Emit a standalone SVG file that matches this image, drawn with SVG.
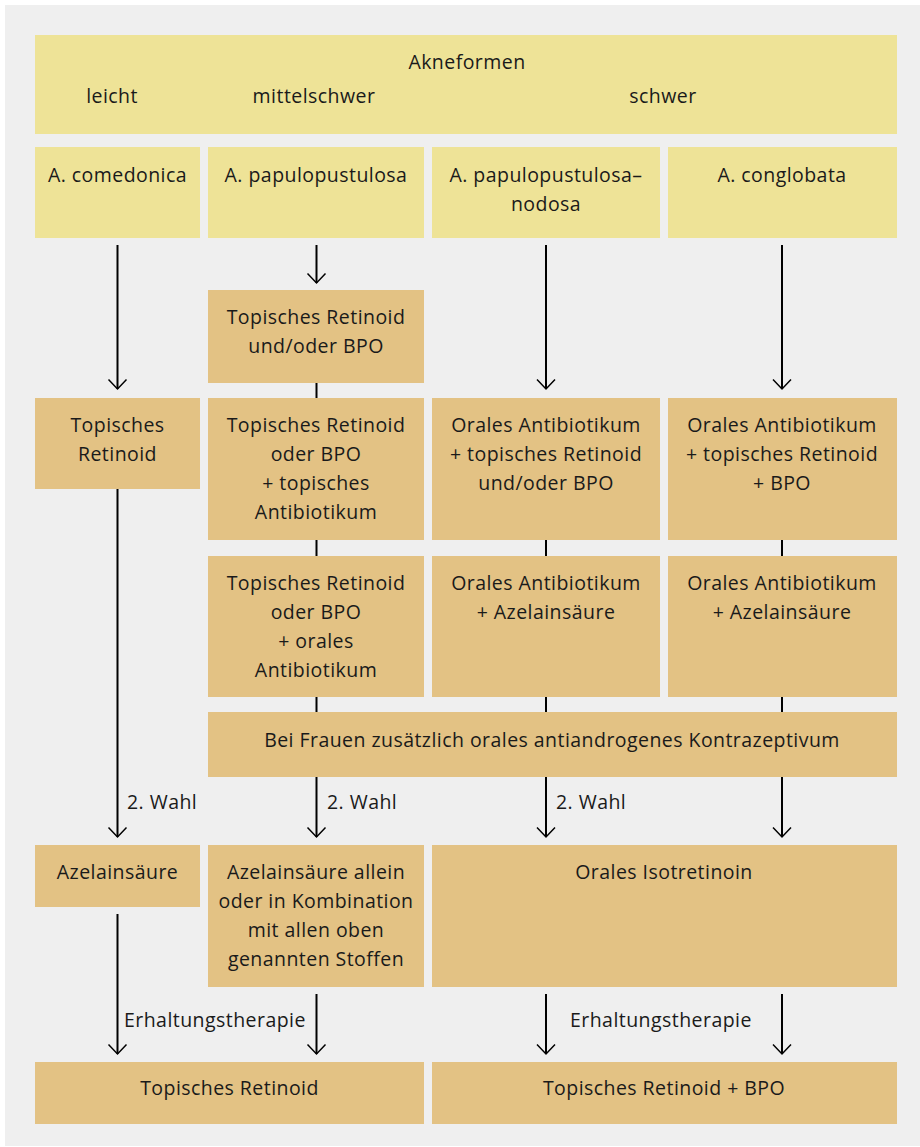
<svg xmlns="http://www.w3.org/2000/svg" width="920" height="1147" viewBox="0 0 920 1147">
  <style>
    .bg { fill: #efefef; }
    .form { fill: #eee397; }
    .therapy { fill: #e3c284; }
    text { font-family: "Open Sans", "Noto Sans", "Liberation Sans", sans-serif; font-size: 19.5px; letter-spacing: 0.45px; fill: #1a1a1a; text-anchor: middle; }
    text.lbl { text-anchor: start; }
    .link { stroke: #000; stroke-width: 2; fill: none; }
    .arrow { stroke: #000; stroke-width: 2; fill: none; marker-end: url(#chevron); }
  </style>
  <defs>
    <marker id="chevron" markerUnits="userSpaceOnUse" viewBox="-12 -12 24 24" markerWidth="24" markerHeight="24" refX="0" refY="0" orient="auto" overflow="visible">
      <path d="M-9.5,-9 L0,0 L-9.5,9" fill="none" stroke="#000" stroke-width="1.5"/>
    </marker>
  </defs>

  <rect class="bg" x="5" y="5" width="915" height="1141"/>

  <!-- header: acne forms by severity -->
  <g id="akneformen">
    <rect class="form" x="35" y="35" width="862" height="99"/>
    <text x="467" y="69">Akneformen</text>
    <text x="112" y="103">leicht</text>
    <text x="314" y="103">mittelschwer</text>
    <text x="663" y="103">schwer</text>
  </g>

  <g id="comedonica">
    <rect class="form" x="35" y="147" width="165" height="91"/>
    <text x="117.5" y="182">A. comedonica</text>
  </g>
  <g id="papulopustulosa">
    <rect class="form" x="208" y="147" width="216" height="91"/>
    <text x="316" y="182">A. papulopustulosa</text>
  </g>
  <g id="papulopustulosa-nodosa">
    <rect class="form" x="432" y="147" width="228" height="91"/>
    <text x="546" y="182">A. papulopustulosa–</text>
    <text x="546" y="211">nodosa</text>
  </g>
  <g id="conglobata">
    <rect class="form" x="668" y="147" width="229" height="91"/>
    <text x="782" y="182">A. conglobata</text>
  </g>

  <!-- first-line therapies -->
  <g id="pp-topisch">
    <rect class="therapy" x="208" y="290" width="216" height="93"/>
    <text x="316" y="324">Topisches Retinoid</text>
    <text x="316" y="353">und/oder BPO</text>
  </g>

  <g id="com-retinoid">
    <rect class="therapy" x="35" y="398" width="165" height="91"/>
    <text x="117.5" y="432">Topisches</text>
    <text x="117.5" y="461">Retinoid</text>
  </g>
  <g id="pp-topisch-ab">
    <rect class="therapy" x="208" y="398" width="216" height="142"/>
    <text x="316" y="432">Topisches Retinoid</text>
    <text x="316" y="461">oder BPO</text>
    <text x="316" y="490">+ topisches</text>
    <text x="316" y="519">Antibiotikum</text>
  </g>
  <g id="ppn-oral-ab">
    <rect class="therapy" x="432" y="398" width="228" height="142"/>
    <text x="546" y="432">Orales Antibiotikum</text>
    <text x="546" y="461">+ topisches Retinoid</text>
    <text x="546" y="490">und/oder BPO</text>
  </g>
  <g id="cg-oral-ab">
    <rect class="therapy" x="668" y="398" width="229" height="142"/>
    <text x="782" y="432">Orales Antibiotikum</text>
    <text x="782" y="461">+ topisches Retinoid</text>
    <text x="782" y="490">+ BPO</text>
  </g>

  <g id="pp-oral-ab">
    <rect class="therapy" x="208" y="556" width="216" height="141"/>
    <text x="316" y="590">Topisches Retinoid</text>
    <text x="316" y="619">oder BPO</text>
    <text x="316" y="648">+ orales</text>
    <text x="316" y="677">Antibiotikum</text>
  </g>
  <g id="ppn-azelain">
    <rect class="therapy" x="432" y="556" width="228" height="141"/>
    <text x="546" y="590">Orales Antibiotikum</text>
    <text x="546" y="619">+ Azelainsäure</text>
  </g>
  <g id="cg-azelain">
    <rect class="therapy" x="668" y="556" width="229" height="141"/>
    <text x="782" y="590">Orales Antibiotikum</text>
    <text x="782" y="619">+ Azelainsäure</text>
  </g>

  <g id="frauen">
    <rect class="therapy" x="208" y="712" width="689" height="65"/>
    <text x="552" y="747">Bei Frauen zusätzlich orales antiandrogenes Kontrazeptivum</text>
  </g>

  <!-- second choice -->
  <g id="azelain">
    <rect class="therapy" x="35" y="845" width="165" height="62"/>
    <text x="117.5" y="879">Azelainsäure</text>
  </g>
  <g id="azelain-kombi">
    <rect class="therapy" x="208" y="845" width="216" height="142"/>
    <text x="316" y="879">Azelainsäure allein</text>
    <text x="316" y="908">oder in Kombination</text>
    <text x="316" y="937">mit allen oben</text>
    <text x="316" y="966">genannten Stoffen</text>
  </g>
  <g id="isotretinoin">
    <rect class="therapy" x="432" y="845" width="465" height="142"/>
    <text x="664" y="879">Orales Isotretinoin</text>
  </g>

  <!-- maintenance -->
  <g id="erhaltung-retinoid">
    <rect class="therapy" x="35" y="1062" width="389" height="62"/>
    <text x="229.5" y="1095">Topisches Retinoid</text>
  </g>
  <g id="erhaltung-retinoid-bpo">
    <rect class="therapy" x="432" y="1062" width="465" height="62"/>
    <text x="664" y="1095">Topisches Retinoid + BPO</text>
  </g>

  <g id="connectors">
    <!-- forms to first therapy -->
    <line class="arrow" x1="117.5" y1="245" x2="117.5" y2="389"/>
    <line class="arrow" x1="316.5" y1="245" x2="316.5" y2="283"/>
    <line class="arrow" x1="546" y1="245" x2="546" y2="389"/>
    <line class="arrow" x1="782" y1="245" x2="782" y2="389"/>
    <!-- plain joins between stacked options -->
    <line class="link" x1="316.5" y1="383" x2="316.5" y2="398"/>
    <line class="link" x1="316.5" y1="540" x2="316.5" y2="556"/>
    <line class="link" x1="316.5" y1="697" x2="316.5" y2="712"/>
    <line class="link" x1="546" y1="540" x2="546" y2="556"/>
    <line class="link" x1="546" y1="697" x2="546" y2="712"/>
    <line class="link" x1="782" y1="540" x2="782" y2="556"/>
    <line class="link" x1="782" y1="697" x2="782" y2="712"/>
    <!-- to second choice -->
    <line class="arrow" x1="117.5" y1="489" x2="117.5" y2="837"/>
    <line class="arrow" x1="316.5" y1="777" x2="316.5" y2="837"/>
    <line class="arrow" x1="546" y1="777" x2="546" y2="837"/>
    <line class="arrow" x1="782" y1="777" x2="782" y2="837"/>
    <text class="lbl" x="127" y="809">2. Wahl</text>
    <text class="lbl" x="327" y="809">2. Wahl</text>
    <text class="lbl" x="556" y="809">2. Wahl</text>
    <!-- to maintenance -->
    <line class="arrow" x1="117.5" y1="914" x2="117.5" y2="1054"/>
    <line class="arrow" x1="316.5" y1="994" x2="316.5" y2="1054"/>
    <line class="arrow" x1="546" y1="994" x2="546" y2="1054"/>
    <line class="arrow" x1="782" y1="994" x2="782" y2="1054"/>
    <text class="lbl" x="124" y="1027">Erhaltungstherapie</text>
    <text class="lbl" x="570" y="1027">Erhaltungstherapie</text>
  </g>
</svg>
